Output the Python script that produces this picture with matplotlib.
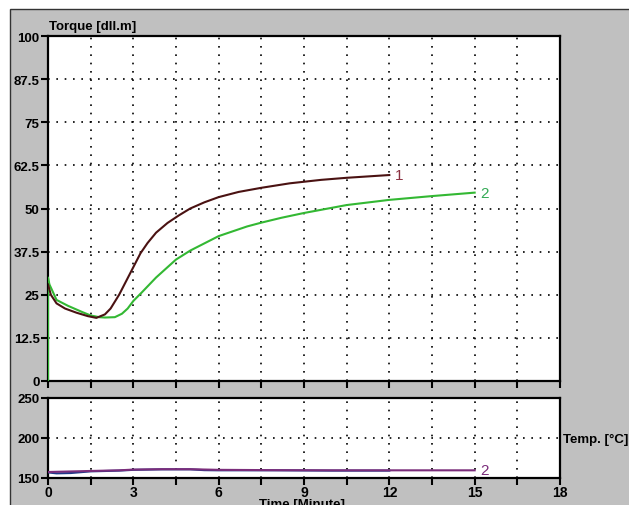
import numpy as np
import matplotlib
matplotlib.use("Agg")
import matplotlib.pyplot as plt
from matplotlib.patches import Rectangle

plt.rcParams["font.family"] = ["Liberation Sans", "DejaVu Sans"]

# torque curves (time in minutes, torque in dll.m)
t1 = [0, 0.1, 0.3, 0.6, 1.0, 1.4, 1.7, 2.0, 2.2, 2.5, 2.8, 3.0, 3.25, 3.5, 3.8, 4.2, 4.6, 5.0, 5.5,
      6.0, 6.7, 7.5, 8.5, 9.6, 10.5, 12.0]
torque1 = [28, 25, 22.5, 21, 19.8, 18.8, 18.3, 19.3, 21, 25, 29.8, 33, 37, 40, 43, 45.8, 48, 50, 51.8,
           53.3, 54.8, 56, 57.3, 58.3, 58.9, 59.7]

t2 = [0, 0, 0.05, 0.3, 0.7, 1.2, 1.5, 1.8, 2.0, 2.35, 2.6, 2.8, 3.0, 3.3, 3.8, 4.5, 5.0, 6.0, 7.0,
      7.5, 8.2, 9.0, 10.5, 12.0, 13.5, 15.0]
torque2 = [0, 30, 28, 23.5, 21.8, 20, 19, 18.5, 18.4, 18.5, 19.5, 21, 23.2, 25.7, 30, 35.2, 37.8, 42, 44.8,
           45.9, 47.3, 48.7, 51, 52.5, 53.6, 54.6]

# temperature curves
tt1 = [0, 0.3, 0.8, 1.5, 2.5, 3.0, 4.0, 5.0, 5.5, 6.0, 8.0, 10.0, 12.0]
temp1 = [157, 155.8, 156.2, 158.3, 159.2, 160.2, 160.8, 160.8, 159.8, 159.6, 159.6, 159.2, 159.2]
tt2 = [0, 1.5, 2.5, 3.0, 4.0, 5.0, 5.5, 6.0, 8.0, 10.0, 12.0, 15.0]
temp2 = [157.5, 158.8, 159.6, 160.5, 161, 161, 160.6, 160.2, 159.8, 159.6, 159.6, 159.6]

torque_ticks = [0, 12.5, 25, 37.5, 50, 62.5, 75, 87.5, 100]
torque_labels = ["0", "12.5", "25", "37.5", "50", "62.5", "75", "87.5", "100"]
temp_ticks = [150, 200, 250]

W, H = 629, 506
fig = plt.figure(figsize=(W / 100, H / 100), dpi=100)
fig.patch.set_facecolor("white")
fig.patches.append(Rectangle((10 / W, -0.01), 1.0, 1 - 10 / H + 0.01, transform=fig.transFigure,
                             facecolor="#c0c0c0", edgecolor="#333333", linewidth=1.0, zorder=-5))

grid_kw = dict(color="black", linestyle=(0, (1, 4)), linewidth=1.2)
tick_kw = dict(direction="out", length=5, width=1.5, colors="black", labelsize=9.5)

ax1 = fig.add_axes([48 / W, 1 - 382 / H, 512 / W, 345 / H])
ax2 = fig.add_axes([48 / W, 1 - 479 / H, 512 / W, 80 / H])

for ax in (ax1, ax2):
    ax.set_facecolor("white")
    ax.set_xlim(0, 18)
    ax.set_xticks(np.arange(0, 18.1, 3))
    ax.set_xticks(np.arange(1.5, 18, 3), minor=True)
    ax.tick_params(axis="both", which="both", **tick_kw)
    ax.tick_params(axis="y", pad=1)
    for s in ax.spines.values():
        s.set_linewidth(1.6)
        s.set_color("black")
    for x in np.arange(1.5, 18, 1.5):
        ax.axvline(x, zorder=1, **grid_kw)

ax1.tick_params(axis="x", which="both", labelbottom=False)
ax1.set_ylim(0, 100)
ax1.set_yticks(torque_ticks)
ax1.set_yticklabels(torque_labels, fontweight="bold")
for y in torque_ticks[1:-1]:
    ax1.axhline(y, zorder=1, **grid_kw)

ax1.plot(t2, torque2, color="#33b833", linewidth=1.5, zorder=3)
ax1.plot(t1, torque1, color="#4a1212", linewidth=1.5, zorder=4)
ax1.text(12.2, torque1[-1], "1", color="#8b3040", fontsize=11, va="center")
ax1.text(15.2, torque2[-1], "2", color="#33aa55", fontsize=11, va="center")

ax2.set_ylim(150, 250)
ax2.set_yticks(temp_ticks)
ax2.set_yticklabels([str(v) for v in temp_ticks], fontweight="bold")
ax2.set_xticklabels([str(int(v)) for v in np.arange(0, 18.1, 3)], fontweight="bold", fontsize=10)
ax2.tick_params(axis="x", pad=0)
ax2.axhline(200, zorder=1, **grid_kw)
ax2.plot(tt1, temp1, color="#1f3a8a", linewidth=1.5, zorder=3)
ax2.plot(tt2, temp2, color="#7b2d7b", linewidth=1.5, zorder=4)
ax2.text(15.2, temp2[-1], "2", color="#7b2d7b", fontsize=11, va="center")

fig.text(49 / W, 1 - 27 / H, "Torque [dll.m]", fontsize=9.5, fontweight="bold", va="center")
fig.text(563 / W, 1 - 440 / H, "Temp. [\u00b0C]", fontsize=9.5, fontweight="bold", va="center")
fig.text(302 / W, 1 - 499 / H, "Time [Minute]", fontsize=9.5, fontweight="bold", ha="center", va="top")

fig.savefig("out.png", dpi=100)
